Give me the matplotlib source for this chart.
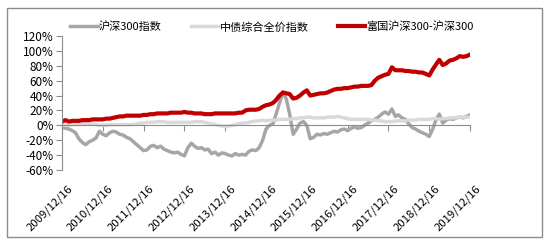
import numpy as np
import pandas as pd
import matplotlib
matplotlib.use("Agg")
import matplotlib.pyplot as plt
from matplotlib.patches import Rectangle
from matplotlib.ticker import FuncFormatter
from matplotlib.transforms import ScaledTranslation

plt.rcParams['font.family'] = ['Noto Sans CJK SC', 'DejaVu Sans']

# monthly readings, 2009/12/16 .. 2019/12/16 (percent)
dates = pd.date_range('2009-12-16', periods=121, freq=pd.DateOffset(months=1))

hs300 = [-2, -4, -5, -7, -10, -18, -23, -26, -22, -20, -17, -8,
         -12, -14, -10, -8, -9, -12, -13, -16, -18, -22, -26, -30,
         -34, -33, -28, -27, -30, -28, -32, -34, -36, -37, -36, -39,
         -41, -30, -24, -28, -31, -30, -33, -32, -38, -36, -40, -37,
         -38, -40, -41, -38, -40, -39, -40, -35, -33, -34, -30, -20,
         -5, 0, 2, 15, 30, 45, 35, 15, -12, -5, 3, 5,
         0, -18, -16, -12, -13, -11, -12, -10, -8, -9, -6, -5,
         -7, -4, -2, -4, -3, 0, 3, 6, 8, 11, 15, 18,
         15, 22, 12, 14, 10, 8, 2, -3, -5, -8, -10, -12,
         -15, -5, 8, 15, 3, 7, 9, 8, 10, 11, 10, 12,
         14]

bond = [0, 0, 0, 1, 1, 1, 2, 2, 2, 2, 1, 0,
        0, 0, 1, 1, 1, 1, 1, 1, 1, 1, 2, 3,
        3, 4, 4, 4, 5, 5, 5, 4, 4, 4, 4, 4,
        4, 4, 4, 5, 5, 5, 4, 3, 2, 1, 0, -1,
        -1, -1, 0, 1, 2, 3, 3, 4, 5, 6, 6, 7,
        6, 7, 7, 7, 8, 8, 8, 8, 9, 9, 10, 10,
        11, 11, 10, 10, 10, 10, 11, 11, 11, 12, 11, 10,
        9, 8, 8, 8, 8, 8, 8, 7, 7, 6, 6, 5,
        5, 5, 6, 6, 6, 6, 7, 7, 7, 8, 8, 8,
        8, 9, 9, 8, 9, 9, 10, 10, 10, 11, 11, 11,
        11]

fuguo = [5, 7, 5, 6, 6, 6, 7, 7, 7, 8, 8, 8,
         8, 9, 9, 10, 11, 12, 12, 13, 13, 13, 13, 13,
         14, 14, 15, 15, 16, 16, 16, 16, 17, 17, 17, 17,
         18, 17, 17, 16, 16, 16, 15, 15, 15, 16, 16, 16,
         16, 16, 16, 16, 17, 17, 20, 21, 21, 21, 22, 25,
         27, 28, 30, 34, 40, 44, 43, 42, 36, 37, 40, 44,
         47, 40, 41, 42, 43, 43, 44, 46, 48, 49, 49, 50,
         50, 51, 52, 52, 53, 53, 53, 54, 60, 64, 66, 68,
         69, 78, 74, 74, 74, 73, 73, 72, 72, 71, 71, 69,
         67, 75, 82, 88, 81, 83, 87, 88, 90, 93, 92, 93,
         95]

names = ['沪深300指数', '中债综合全价指数', '富国沪深300-沪深300']
colors = ['#A6A6A6', '#D9D9D9', '#C00000']
tick_dates = pd.date_range('2009-12-16', periods=11, freq=pd.DateOffset(years=1))

fig = plt.figure(figsize=(5.45, 2.45), dpi=100)
fig.patches.append(Rectangle((7/545, 1-237/245), 535/545, 229/245, transform=fig.transFigure,
                             fill=False, edgecolor='#8C8C8C', linewidth=1))
ax = fig.add_axes([62/545, 1-170/245, 408/545, 134/245])

ax.plot(dates, hs300, color=colors[0], lw=2.5, label=names[0])
ax.plot(dates, bond, color=colors[1], lw=2.5, label=names[1])
ax.plot(dates, fuguo, color=colors[2], lw=3.0, label=names[2])

ax.set_xlim(dates[0], dates[-1])
ax.set_ylim(-60, 120)
ax.set_yticks(np.arange(-60, 121, 20))
ax.yaxis.set_major_formatter(FuncFormatter(lambda v, p: '%d%%' % v))

for s in ['top', 'right']:
    ax.spines[s].set_visible(False)
ax.spines['bottom'].set_position(('data', 0))
ax.spines['bottom'].set_color('#8C8C8C')
ax.spines['left'].set_color('#8C8C8C')

ax.set_xticks(tick_dates)
ax.set_xticklabels([d.strftime('%Y/%m/%d') for d in tick_dates], rotation=45,
                   ha='right', rotation_mode='anchor')
ax.tick_params(axis='x', direction='out', length=4, color='#8C8C8C', labelsize=8.2, pad=38)
ax.tick_params(axis='y', direction='out', length=4, color='#8C8C8C', labelsize=8.5, pad=2)
shift = ScaledTranslation(5/100, 0, fig.dpi_scale_trans)
for lab in ax.get_xticklabels():
    lab.set_transform(lab.get_transform() + shift)

fig.legend(loc='center', bbox_to_anchor=(272/545, 1-27/245), ncol=3, frameon=False,
           fontsize=8, handlelength=2.5, handletextpad=0.1, columnspacing=2.6)

fig.savefig('out.png', dpi=100)
